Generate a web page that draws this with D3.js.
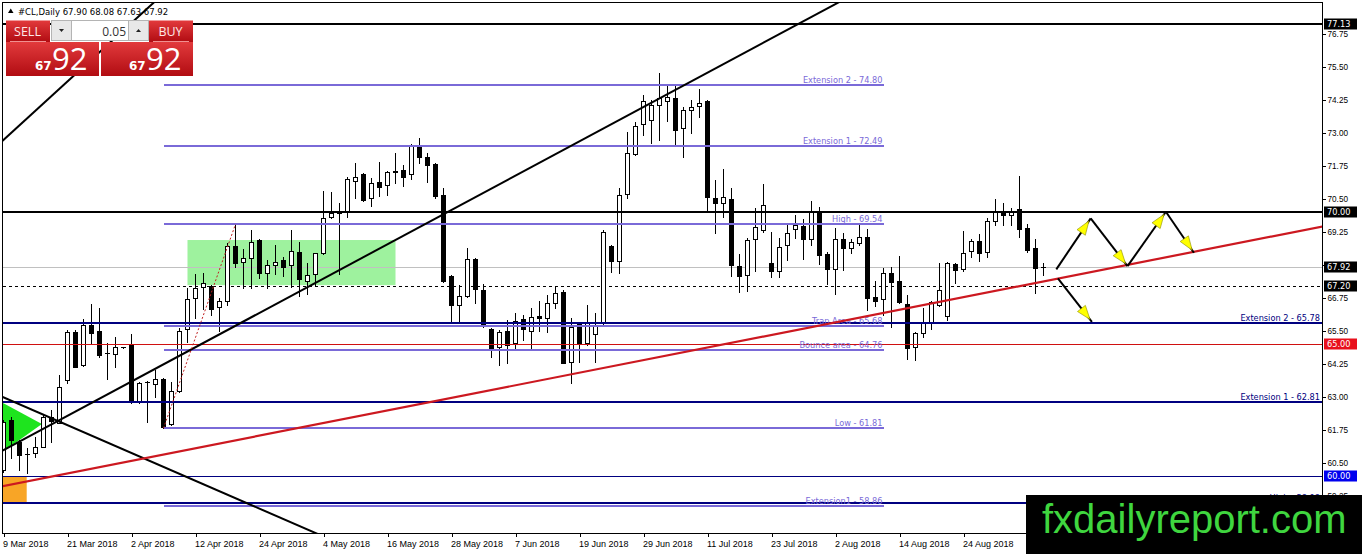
<!DOCTYPE html>
<html>
<head>
<meta charset="utf-8">
<style>
body { margin: 0; background: #fff; }
svg { display: block; font-family: "DejaVu Sans", sans-serif; }
.axis text { font-size: 8.2px; fill: #000; }
.xaxis text { font-size: 9px; }
.axis line { stroke: #000; shape-rendering: crispEdges; }
.axis path { display: none; }
.lvl { shape-rendering: crispEdges; }
.fibo text { font-size: 8.2px; fill: #7a6ad8; text-anchor: end; }
.ext text { font-size: 8.2px; fill: #000080; text-anchor: end; }
</style>
</head>
<body>
<svg id="chart" width="1362" height="554"></svg>
<script src="https://cdn.jsdelivr.net/npm/d3@7/dist/d3.min.js"></script>
<script>
// daily CL bars, 9 Mar 2018 .. 31 Aug 2018
var opens = [60.23,62.12,61.30,60.83,60.88,61.11,62.23,62.01,63.64,65.45,
  64.20,65.72,65.49,64.66,64.62,64.88,65.00,62.81,63.56,63.48,
  63.67,61.97,63.23,65.57,66.74,67.16,67.20,66.40,66.64,68.71,
  68.12,68.26,68.94,67.70,67.99,68.18,68.00,68.50,67.40,67.65,
  68.46,69.81,70.00,70.01,71.19,71.44,70.53,71.14,71.02,71.53,
  71.59,71.44,72.46,72.08,71.82,70.64,67.58,66.48,66.82,68.22,
  67.05,65.57,64.89,65.50,65.04,65.95,65.50,66.06,65.98,66.56,
  66.98,64.33,65.81,65.05,65.38,65.84,68.71,68.16,70.68,72.20,
  73.33,73.48,74.05,74.22,74.31,73.17,73.86,74.02,74.22,70.52,
  70.35,70.48,67.95,67.61,68.97,69.32,68.08,67.78,68.75,69.34,
  69.47,68.97,70.01,68.41,67.83,68.97,68.62,68.84,69.04,66.79,
  66.69,67.70,67.40,66.52,64.90,65.43,65.81,66.48,66.06,68.03,
  67.83,68.53,68.91,68.50,69.67,70.05,69.89,70.10,69.38,68.62,
  67.90];
var highs = [62.12,62.25,61.36,61.06,61.49,62.35,62.50,63.83,65.53,65.53,
  65.95,66.52,66.36,65.05,65.27,64.90,65.38,63.57,63.61,64.02,
  63.71,63.57,65.59,67.12,67.65,67.70,67.23,66.74,68.83,69.54,
  68.60,69.32,68.97,68.18,68.75,68.31,69.32,68.88,68.08,68.46,
  70.81,70.77,70.35,71.34,71.87,71.47,71.29,71.91,71.56,72.25,
  71.78,72.58,72.80,72.23,71.87,70.91,67.61,67.23,68.64,68.26,
  67.27,65.61,65.53,65.91,66.19,66.10,66.36,66.64,66.86,67.17,
  67.05,65.98,65.84,66.48,66.17,69.32,68.75,70.91,73.04,73.42,
  74.43,74.24,75.27,74.81,74.81,73.99,74.24,74.65,74.24,71.21,
  71.62,70.90,68.41,69.00,70.14,71.06,69.25,69.00,69.51,69.89,
  69.72,70.43,70.20,68.50,69.38,69.22,68.97,69.51,69.34,67.40,
  67.87,67.91,68.33,66.86,65.47,66.35,66.64,68.06,68.12,68.08,
  69.29,68.97,69.17,69.76,70.48,70.35,70.14,71.36,69.55,68.97,
  68.08];
var lows = [60.15,60.68,60.23,60.11,60.73,61.08,61.30,61.99,63.53,64.12,
  64.17,65.04,64.52,63.67,64.13,64.86,62.78,62.78,62.05,63.00,
  61.81,61.93,63.19,65.09,65.98,66.33,66.10,65.50,66.48,67.93,
  67.12,67.12,67.49,67.12,67.65,67.58,67.17,66.82,66.89,67.23,
  68.41,69.77,67.65,69.82,70.53,70.42,70.23,70.61,70.64,71.10,
  70.98,71.25,71.86,71.15,70.53,67.36,65.80,65.88,66.79,66.55,
  65.66,64.51,64.20,64.28,64.77,65.15,64.77,65.50,65.47,66.36,
  64.27,63.53,64.33,64.96,64.33,65.72,67.74,67.70,70.53,72.16,
  72.92,72.61,72.73,73.46,72.50,72.09,73.00,73.61,70.01,69.19,
  69.80,67.58,66.98,67.02,67.78,69.25,67.55,67.55,68.18,69.00,
  68.21,68.75,68.03,67.27,66.89,67.80,68.44,68.75,66.29,66.44,
  66.10,65.66,66.54,64.42,64.39,65.25,65.56,66.44,65.91,67.30,
  67.78,68.28,68.16,68.28,69.51,69.51,69.51,69.04,68.50,66.94,
  67.63];
var closes = [62.05,61.36,60.80,60.84,61.11,62.23,62.09,63.37,65.45,64.14,
  65.72,65.43,64.58,64.65,64.89,64.87,62.80,63.52,63.57,63.67,
  61.87,63.23,65.50,66.70,67.12,67.31,66.33,66.64,68.71,68.08,
  68.26,68.88,67.69,67.99,68.12,67.93,68.53,67.45,67.61,68.45,
  69.77,69.96,69.98,71.25,71.34,70.45,71.11,70.96,71.52,71.55,
  71.34,72.54,72.08,71.79,70.61,67.40,66.48,66.82,68.22,67.08,
  65.68,64.85,65.47,64.96,65.88,65.57,66.02,65.98,66.56,66.94,
  64.29,65.66,65.04,65.84,65.72,69.25,68.16,70.64,72.25,73.26,
  74.22,74.05,74.31,74.34,73.11,73.86,73.97,74.14,70.56,70.33,
  70.56,67.99,67.58,68.94,69.42,70.27,67.78,68.69,69.22,69.51,
  68.97,70.01,68.37,67.83,68.97,68.62,68.87,69.04,66.73,66.64,
  67.70,67.36,66.60,64.84,65.41,65.84,66.60,67.05,68.08,67.80,
  68.46,68.91,68.46,69.67,70.01,69.89,70.05,69.34,68.56,67.87,
  67.92];

// one date label every 8 bars
var dateLabels = ["9 Mar 2018","21 Mar 2018","2 Apr 2018","12 Apr 2018","24 Apr 2018",
  "4 May 2018","16 May 2018","28 May 2018","7 Jun 2018","19 Jun 2018","29 Jun 2018",
  "11 Jul 2018","23 Jul 2018","2 Aug 2018","14 Aug 2018","24 Aug 2018"];
var priceTicks = [59.25,60.50,61.75,63.00,64.25,65.50,66.75,68.00,69.25,70.50,71.75,73.00,74.25,75.50,76.75];
var tagPrices = [77.13, 70.00, 67.92, 67.20, 65.00, 60.00];

// fibo style levels drawn from the Apr swing
var fiboPrices = [74.80, 72.49, 69.54, 65.68, 64.76, 61.81, 58.86];
var fiboNames = ["Extension 2", "Extension 1", "High", "Trap Area", "Bounce area", "Low", "Extension1"];
var fiboBars = [20, 110];
var extPrices = [65.78, 62.81, 58.98];
var extNames = ["Extension 2", "Extension 1", "High"];
var blackLevels = [77.13, 70.00];
var bidPrice = 67.92, dashPrice = 67.20, redLevel = 65.00, navyThin = 60.00;

// trend lines as [bar, price] anchors
var trendA = [[0, 72.73], [18, 77.72]];
var trendB = [[0, 60.98], [104, 77.88]];
var trendC = [[0, 62.98], [39, 57.84]];
var trendRed = [[0, 59.62], [165, 69.46]];
var swingLine = [[20, 61.81], [29, 69.54]];
var zoneBars = [23, 49], zonePrices = [67.23, 68.94];
var triPoints = [[-0.06, 62.77], [4.8, 61.97], [-0.06, 60.92]];
var boxBars = [-0.06, 2.9], boxPrices = [58.98, 60.00];
var arrowUpPath = [[131.6, 67.83], [135.9, 69.76], [140.5, 67.95], [145.3, 70.01], [148.8, 68.46]];
var arrowDownPath = [[131.8, 67.49], [136.05, 65.84]];

var svg = d3.select("#chart");
var pLeft = 3, pRight = 1322, pTop = 3, pBottom = 533;

var x = d3.scaleLinear().domain([0, 1]).range([3.5, 11.5]);
var y = d3.scaleLinear().domain([57.84, 77.92]).range([pBottom, pTop]);

var defs = svg.append("defs");
defs.append("clipPath").attr("id", "plotclip")
  .append("rect").attr("x", pLeft).attr("y", pTop).attr("width", pRight - pLeft).attr("height", pBottom - pTop);
var grad = defs.append("linearGradient").attr("id", "redGrad")
  .attr("x1", 0).attr("y1", 0).attr("x2", 0).attr("y2", 1);
grad.append("stop").attr("offset", "0%").attr("stop-color", "#e23a3c");
grad.append("stop").attr("offset", "100%").attr("stop-color", "#b10c12");

var plot = svg.append("g").attr("clip-path", "url(#plotclip)");

// filled objects behind the bars
plot.append("rect")
  .attr("x", x(zoneBars[0])).attr("y", y(zonePrices[1]))
  .attr("width", x(zoneBars[1]) - x(zoneBars[0]))
  .attr("height", y(zonePrices[0]) - y(zonePrices[1]))
  .attr("fill", "#9ef29e");
plot.append("polygon")
  .attr("points", triPoints.map(function(p) { return x(p[0]) + "," + y(p[1]); }).join(" "))
  .attr("fill", "#1ee41e");
plot.append("rect")
  .attr("x", x(boxBars[0])).attr("y", y(boxPrices[1]))
  .attr("width", x(boxBars[1]) - x(boxBars[0]))
  .attr("height", y(boxPrices[0]) - y(boxPrices[1]))
  .attr("fill", "#f8a526");

// bid and dashed level sit under the bars
function hline(g, price, color, width, dash) {
  var py = Math.round(y(price)) + (width % 2 ? 0.5 : 0);
  var l = g.append("line").attr("class", "lvl")
    .attr("x1", pLeft).attr("x2", pRight).attr("y1", py).attr("y2", py)
    .attr("stroke", color).attr("stroke-width", width);
  if (dash) l.attr("stroke-dasharray", dash);
  return l;
}
hline(plot, bidPrice, "#c0c0c0", 1);
hline(plot, dashPrice, "#000", 1, "3,3");

// candles
var bars = opens.map(function(o, i) {
  return {i: i, o: o, h: highs[i], l: lows[i], c: closes[i]};
});
var candle = plot.append("g").selectAll("g").data(bars).enter().append("g");
candle.append("line")
  .attr("x1", function(d) { return x(d.i); })
  .attr("x2", function(d) { return x(d.i); })
  .attr("y1", function(d) { return Math.round(y(d.h)); })
  .attr("y2", function(d) { return Math.round(y(d.l)) + 1; })
  .attr("stroke", "#000").attr("shape-rendering", "crispEdges");
candle.each(function(d) {
  var g = d3.select(this);
  var t = Math.round(y(Math.max(d.o, d.c))), b = Math.round(y(Math.min(d.o, d.c)));
  if (b - t < 1) {
    g.append("line").attr("x1", x(d.i) - 2.5).attr("x2", x(d.i) + 2.5)
      .attr("y1", t + 0.5).attr("y2", t + 0.5)
      .attr("stroke", "#000").attr("shape-rendering", "crispEdges");
  } else {
    g.append("rect").attr("x", x(d.i) - 2).attr("width", 4)
      .attr("y", t + 0.5).attr("height", b - t)
      .attr("fill", d.c >= d.o ? "#fff" : "#000")
      .attr("stroke", "#000").attr("shape-rendering", "crispEdges");
  }
});

// horizontal levels
blackLevels.forEach(function(p) { hline(plot, p, "#000", 2); });
hline(plot, redLevel, "#d01010", 1);
hline(plot, navyThin, "#000080", 1);

var ext = plot.append("g").attr("class", "ext");
extPrices.forEach(function(p, k) {
  hline(ext, p, "#000080", 2);
  ext.append("text").attr("x", pRight - 2).attr("y", Math.round(y(p)) - 2)
    .text(extNames[k] + " - " + p.toFixed(2));
});

var fibo = plot.append("g").attr("class", "fibo");
fiboPrices.forEach(function(p, k) {
  var py = Math.round(y(p));
  fibo.append("line").attr("class", "lvl")
    .attr("x1", x(fiboBars[0])).attr("x2", x(fiboBars[1]))
    .attr("y1", py).attr("y2", py)
    .attr("stroke", "#7a6ad8").attr("stroke-width", 2);
  fibo.append("text").attr("x", x(fiboBars[1]) - 1).attr("y", py - 2)
    .text(fiboNames[k] + " - " + p.toFixed(2));
});

// trend lines, extended across the chart as rays
function ray(pts, color, width) {
  var k = (pts[1][1] - pts[0][1]) / (pts[1][0] - pts[0][0]);
  var a = -5, b = 200;
  plot.append("line")
    .attr("x1", x(a)).attr("y1", y(pts[0][1] + k * (a - pts[0][0])))
    .attr("x2", x(b)).attr("y2", y(pts[0][1] + k * (b - pts[0][0])))
    .attr("stroke", color).attr("stroke-width", width);
}
ray(trendA, "#000", 2);
ray(trendB, "#000", 2);
ray(trendC, "#000", 2);
ray(trendRed, "#cc1820", 2.2);

plot.append("line")
  .attr("x1", x(swingLine[0][0])).attr("y1", y(swingLine[0][1]))
  .attr("x2", x(swingLine[1][0])).attr("y2", y(swingLine[1][1]))
  .attr("stroke", "#c02020").attr("stroke-width", 1).attr("stroke-dasharray", "2,2");

// projected moves
function arrowSeg(p0, p1) {
  var x0 = x(p0[0]), y0 = y(p0[1]), x1 = x(p1[0]), y1 = y(p1[1]);
  plot.append("line").attr("x1", x0).attr("y1", y0).attr("x2", x1).attr("y2", y1)
    .attr("stroke", "#000").attr("stroke-width", 2);
  var ang = Math.atan2(y1 - y0, x1 - x0), c = Math.cos(ang), s = Math.sin(ang);
  var tx = x1 - 3 * c, ty = y1 - 3 * s;
  var bx = tx - 14 * c, by = ty - 14 * s;
  var pts = [[tx, ty], [bx - 5 * s, by + 5 * c], [bx + 5 * s, by - 5 * c]];
  plot.append("polygon").attr("points", pts.map(function(p) { return p.join(","); }).join(" "))
    .attr("fill", "#ffff00").attr("stroke", "#8a8a00").attr("stroke-width", 0.6);
}
for (var k = 1; k < arrowUpPath.length; k++) arrowSeg(arrowUpPath[k - 1], arrowUpPath[k]);
arrowSeg(arrowDownPath[0], arrowDownPath[1]);

// frame
svg.append("rect").attr("x", pLeft - 0.5).attr("y", pTop - 0.5)
  .attr("width", pRight - pLeft + 1).attr("height", pBottom - pTop + 1)
  .attr("fill", "none").attr("stroke", "#000").attr("shape-rendering", "crispEdges");

// price axis
svg.append("g").attr("class", "axis")
  .attr("transform", "translate(" + (pRight + 0.5) + ",0)")
  .call(d3.axisRight(y).tickValues(priceTicks).tickSize(3).tickPadding(2)
    .tickFormat(d3.format(".2f")));

// time axis
var xa = svg.append("g").attr("class", "axis xaxis")
  .attr("transform", "translate(0," + (pBottom + 0.5) + ")")
  .call(d3.axisBottom(x).tickValues(dateLabels.map(function(d, i) { return i * 8; }))
    .tickSize(3).tickPadding(4)
    .tickFormat(function(d, i) { return dateLabels[i]; }));
xa.selectAll("text").attr("text-anchor", "start").attr("x", -1);

// price tags on the scale
var tagColors = {"77.13": "#000", "70.00": "#000", "67.92": "#000", "67.20": "#000", "65.00": "#e8101c", "60.00": "#0000ee"};
var tags = svg.append("g").attr("class", "axis");
tagPrices.forEach(function(p) {
  var py = Math.round(y(p));
  tags.append("rect").attr("x", pRight + 2).attr("y", py - 5.5).attr("width", 33).attr("height", 11)
    .attr("fill", tagColors[p.toFixed(2)]);
  tags.append("text").attr("x", pRight + 5).attr("y", py + 3.2)
    .style("fill", "#fff").text(p.toFixed(2));
});

// header
svg.append("path").attr("d", "M8,13L13.5,13L10.75,8.5Z").attr("fill", "#000");
svg.append("text").attr("x", 18).attr("y", 14.5)
  .style("font-size", "8.5px").text("#CL,Daily  67.90 68.08 67.63 67.92");

// one click trading panel
var panel = svg.append("g");
panel.append("rect").attr("x", 6).attr("y", 20.5).attr("width", 44).attr("height", 21.5).attr("fill", "url(#redGrad)");
panel.append("rect").attr("x", 149).attr("y", 20.5).attr("width", 44).attr("height", 21.5).attr("fill", "url(#redGrad)");
panel.append("rect").attr("x", 6).attr("y", 42).attr("width", 93).attr("height", 34).attr("fill", "url(#redGrad)");
panel.append("rect").attr("x", 101).attr("y", 42).attr("width", 92).attr("height", 34).attr("fill", "url(#redGrad)");
panel.append("line").attr("x1", 10).attr("x2", 46).attr("y1", 41.5).attr("y2", 41.5).attr("stroke", "#f09090");
panel.append("line").attr("x1", 153).attr("x2", 189).attr("y1", 41.5).attr("y2", 41.5).attr("stroke", "#f09090");
[[51.5, 20], [128.5, 20]].forEach(function(b) {
  panel.append("rect").attr("x", b[0]).attr("y", 20.5).attr("width", b[1]).attr("height", 20)
    .attr("fill", "#e8e8e8").attr("stroke", "#b4b4b4");
});
panel.append("rect").attr("x", 71.5).attr("y", 20.5).attr("width", 57).attr("height", 20)
  .attr("fill", "#fff").attr("stroke", "#b4b4b4");
panel.append("path").attr("d", "M59,29L64,29L61.5,32Z").attr("fill", "#222");
panel.append("path").attr("d", "M136,32L141,32L138.5,29Z").attr("fill", "#222");
panel.append("text").attr("x", 126).attr("y", 35.5).attr("text-anchor", "end")
  .style("font-family", "'Open Sans', sans-serif").style("font-size", "12px").style("fill", "#333").text("0.05");
[["SELL", 27.5], ["BUY", 170.5]].forEach(function(t) {
  panel.append("text").attr("x", t[1]).attr("y", 35.5).attr("text-anchor", "middle")
    .style("font-family", "'Open Sans', sans-serif").style("font-size", "12.5px").style("fill", "#fde8e8").text(t[0]);
});
[[35, 52], [129, 146]].forEach(function(p) {
  panel.append("text").attr("x", p[0]).attr("y", 70)
    .style("font-family", "'DejaVu Sans', sans-serif").style("font-weight", "bold").style("font-size", "12px")
    .style("fill", "#fff").text("67");
  panel.append("text").attr("x", p[1]).attr("y", 70)
    .style("font-family", "'Open Sans', sans-serif").style("font-size", "31px").style("fill", "#fff").text("92");
});

// watermark
svg.append("rect").attr("x", 1026).attr("y", 495).attr("width", 336).attr("height", 59).attr("fill", "#000");
svg.append("text").attr("x", 1042).attr("y", 533)
  .style("font-family", "'Liberation Sans', Arial, sans-serif").style("font-size", "40px")
  .style("fill", "#3fd63f").text("fxdailyreport.com");
</script>
</body>
</html>
